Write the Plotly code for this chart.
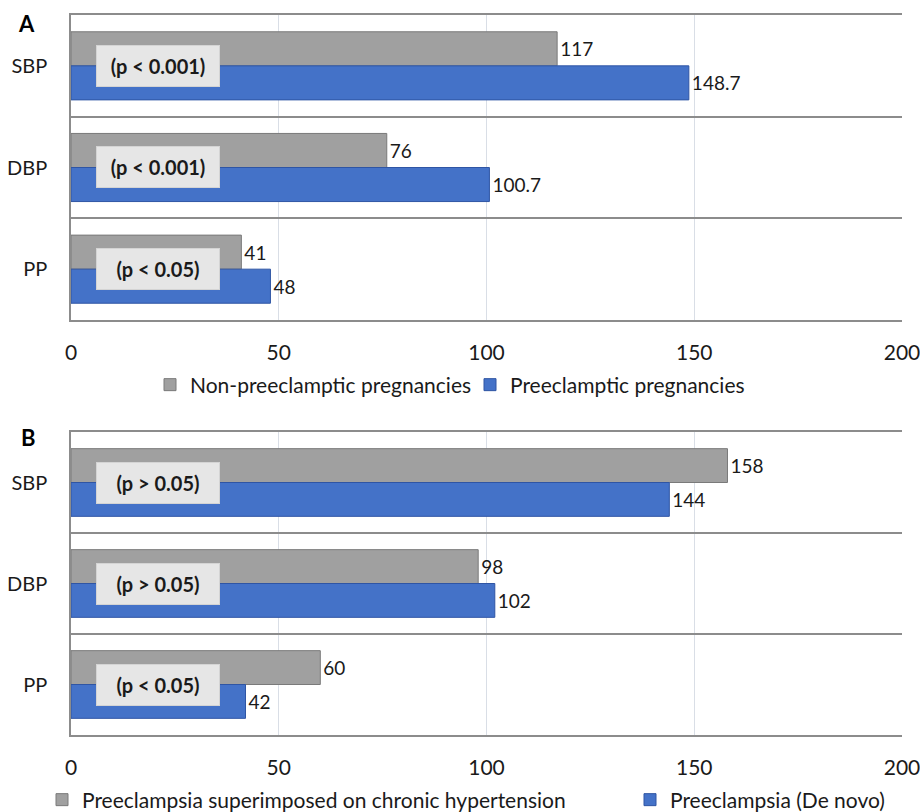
import plotly.graph_objects as go

# Blood pressure components (mmHg)
categories = ["SBP", "DBP", "PP"]

# Panel A
a_names = ["Non-preeclamptic pregnancies", "Preeclamptic pregnancies"]
a_non_pe = [117, 76, 41]
a_pe = [148.7, 100.7, 48]
a_pvals = ["(p < 0.001)", "(p < 0.001)", "(p < 0.05)"]

# Panel B
b_names = ["Preeclampsia superimposed on chronic hypertension", "Preeclampsia (De novo)"]
b_superimposed = [158, 98, 60]
b_de_novo = [144, 102, 42]
b_pvals = ["(p > 0.05)", "(p > 0.05)", "(p < 0.05)"]

x_ticks = [0, 50, 100, 150, 200]

FONT = "Lato, Carlito, Calibri, sans-serif"
GRAY_FILL = "#a0a0a0"
GRAY_LINE = "#7a7a7a"
BLUE_FILL = "#4472c8"
BLUE_LINE = "#2f55a4"
TEXT = "#1a1a1a"

W, H = 920, 812


def py(px):
    """Pixel row (from top) -> paper y."""
    return 1 - px / H


def px_(px):
    """Pixel column -> paper x."""
    return px / W


fig = go.Figure()


def add_panel(xa, ya, legends, names, s1, s2):
    for name, vals, fill, line, lg in ((names[0], s1, GRAY_FILL, GRAY_LINE, legends[0]),
                                       (names[1], s2, BLUE_FILL, BLUE_LINE, legends[1])):
        fig.add_trace(go.Bar(
            y=categories, x=vals, name=name, orientation="h",
            xaxis=xa, yaxis=ya, legend=lg,
            marker=dict(color=fill, line=dict(color=line, width=1)),
            text=[f"{v:g}" for v in vals], textposition="outside",
            textfont=dict(family=FONT, size=19, color=TEXT),
            cliponaxis=False,
        ))


add_panel("x", "y", ("legend", "legend2"), a_names, a_non_pe, a_pe)
add_panel("x2", "y2", ("legend3", "legend4"), b_names, b_superimposed, b_de_novo)

xdom = [px_(71), px_(902)]
xaxis_common = dict(
    range=[0, 200], tickvals=x_ticks, showgrid=True, gridcolor="#d9dee6",
    gridwidth=1, showline=True, linecolor="#8c8c8c", linewidth=1.5, mirror=True,
    zeroline=False, ticks="", ticklabelstandoff=13, automargin=False,
    ticklabeloverflow="allow",
    tickfont=dict(family=FONT, size=21, color=TEXT), domain=xdom,
)
yaxis_common = dict(
    categoryorder="array", categoryarray=categories, autorange="reversed",
    tickson="boundaries", showgrid=True, gridcolor="#8c8c8c", gridwidth=1.5,
    showline=True, linecolor="#8c8c8c", linewidth=1.5, ticks="", automargin=False,
    ticklabelstandoff=18, tickfont=dict(family=FONT, size=20, color=TEXT),
)


def legend_at(x_px, y_px):
    return dict(orientation="h", x=px_(x_px), xanchor="left", y=py(y_px), yanchor="middle",
                font=dict(family=FONT, size=21, color=TEXT), itemwidth=30,
                bgcolor="rgba(0,0,0,0)")


fig.update_layout(
    width=W, height=H, margin=dict(l=0, r=0, t=0, b=0, autoexpand=False),
    paper_bgcolor="white", plot_bgcolor="white",
    barmode="group", bargap=0.33, bargroupgap=0,
    showlegend=True,
    xaxis=dict(**xaxis_common, anchor="y"),
    yaxis=dict(**yaxis_common, anchor="x", domain=[py(320), py(15)]),
    xaxis2=dict(**xaxis_common, anchor="y2"),
    yaxis2=dict(**yaxis_common, anchor="x2", domain=[py(735), py(432)]),
    legend=legend_at(150, 385),
    legend2=legend_at(470, 385),
    legend3=legend_at(42, 800),
    legend4=legend_at(630, 800),
    font=dict(family=FONT, color=TEXT),
)

# Panel letters
for letter, xp, yp in (("A", 26, 23), ("B", 28, 437)):
    fig.add_annotation(text=f"<b>{letter}</b>", xref="paper", yref="paper",
                       x=px_(xp), y=py(yp), xanchor="center", yanchor="middle",
                       showarrow=False, font=dict(family=FONT, size=22, color="black"))

# Significance boxes
for xr, yr, pvals in (("x", "y", a_pvals), ("x2", "y2", b_pvals)):
    for cat, p in zip(categories, pvals):
        fig.add_annotation(
            text=f"<b>{p}</b>", xref=xr, yref=yr, x=21, y=cat, showarrow=False,
            width=112, height=30, borderpad=5, bgcolor="#e6e6e6",
            bordercolor="#d4d4d4", borderwidth=1,
            font=dict(family=FONT, size=20, color=TEXT),
        )

fig.write_html("out.html")
